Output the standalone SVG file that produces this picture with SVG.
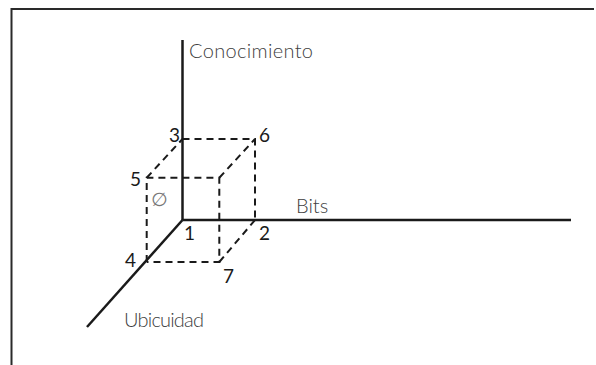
<svg xmlns="http://www.w3.org/2000/svg" width="596" height="365" viewBox="0 0 596 365">
<style>
.axis{stroke:#1a1a1a;stroke-width:2.5;fill:none}
.dash{stroke:#1a1a1a;stroke-width:2;stroke-dasharray:7 5;fill:none}
.lbl{font-family:Lato,"Open Sans",sans-serif;font-size:20px;fill:#404040;font-weight:300}
.num{font-family:Lato,"Open Sans",sans-serif;font-size:19px;fill:#1a1a1a}
</style>
<rect width="596" height="365" fill="#fff"/>
<g id="frame"><path d="M11.5 365 V9 H594" stroke="#2a2a2a" stroke-width="2" fill="none"/></g>
<g id="connectors">
<line class="axis" x1="182.5" y1="40" x2="182.5" y2="220"/>
<line class="axis" x1="182.5" y1="220" x2="571" y2="220"/>
<line class="axis" x1="182.5" y1="220" x2="87" y2="327"/>
<path class="dash" d="M182.5 139 H255 V220"/>
<path class="dash" d="M146.7 262 V177.7 H219.3 V262 H146.7"/>
<path class="dash" d="M146.7 177.7 L182.5 139"/>
<path class="dash" d="M219.3 177.7 L255 139"/>
<path class="dash" d="M219.3 262 L255 220"/>
</g>
<g id="axis-conocimiento"><text class="lbl" x="189" y="58" textLength="124">Conocimiento</text></g>
<g id="axis-bits"><text class="lbl" x="296" y="213">Bits</text></g>
<g id="axis-ubicuidad"><text class="lbl" x="124" y="327" textLength="80">Ubicuidad</text></g>
<g id="p1"><text class="num" x="184" y="240">1</text></g>
<g id="p2"><text class="num" x="259" y="240">2</text></g>
<g id="p3"><text class="num" x="169" y="142">3</text></g>
<g id="p4"><text class="num" x="125" y="267">4</text></g>
<g id="p5"><text class="num" x="130" y="186">5</text></g>
<g id="p6"><text class="num" x="259" y="142">6</text></g>
<g id="p7"><text class="num" x="223" y="283">7</text></g>
<g id="empty"><text x="151" y="206" style="font-family:'DejaVu Sans',sans-serif;font-size:19px;fill:#777">∅</text></g>
</svg>
